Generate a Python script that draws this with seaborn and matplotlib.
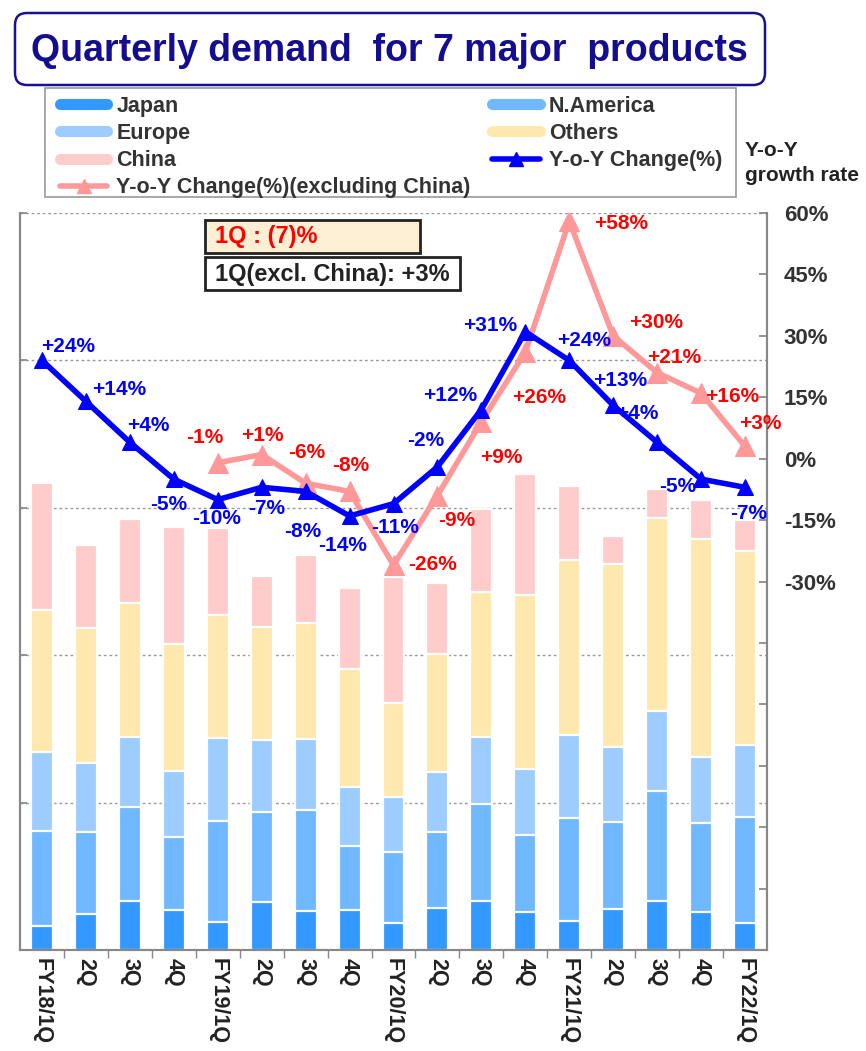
import numpy as np
import pandas as pd
import matplotlib
matplotlib.use("Agg")
import matplotlib.pyplot as plt
import seaborn as sns
from matplotlib.lines import Line2D
from matplotlib.patches import FancyBboxPatch, Rectangle
from matplotlib.transforms import IdentityTransform

# ---------------- data ----------------
quarter_labels = ["FY18/1Q", "2Q", "3Q", "4Q", "FY19/1Q", "2Q", "3Q", "4Q",
                  "FY20/1Q", "2Q", "3Q", "4Q", "FY21/1Q", "2Q", "3Q", "4Q", "FY22/1Q"]
japan     = [8.1, 12.2, 16.6, 13.6, 9.5, 16.3, 13.2, 13.6, 9.2, 14.2, 16.6, 12.9, 9.8, 13.9, 16.6, 12.9, 9.2]
n_america = [32.2, 27.8, 31.9, 24.8, 34.3, 30.5, 34.3, 21.7, 24.1, 25.8, 32.9, 26.1, 34.9, 29.5, 37.3, 30.2, 36.0]
europe    = [26.8, 23.4, 23.7, 22.4, 28.2, 24.4, 24.1, 20.0, 18.7, 20.4, 22.7, 22.4, 28.2, 25.4, 27.1, 22.4, 24.4]
others    = [48.2, 45.8, 45.5, 43.1, 41.7, 38.3, 39.3, 40.0, 31.9, 40.0, 49.2, 59.0, 59.4, 62.1, 65.5, 73.9, 65.8]
china     = [43.1, 28.2, 28.5, 39.7, 29.5, 17.3, 23.1, 27.5, 42.7, 24.1, 28.2, 41.0, 25.1, 9.5, 9.8, 13.2, 10.5]
yoy          = [24, 14, 4, -5, -10, -7, -8, -14, -11, -2, 12, 31, 24, 13, 4, -5, -7]
yoy_ex_china = [np.nan, np.nan, np.nan, np.nan, -1, 1, -6, -8, -26, -9, 9, 26, 58, 30, 21, 16, 3]

series_names = ["Japan", "N.America", "Europe", "Others", "China"]
line_names = ["Y-o-Y Change(%)", "Y-o-Y Change(%)(excluding China)"]
title_text = "Quarterly demand  for 7 major  products"
box1_text = "1Q : (7)%"
box2_text = "1Q(excl. China): +3%"

# ---------------- layout / style ----------------
bar_colors = ["#3399ff", "#70b8ff", "#9dcdff", "#ffe8ad", "#ffcccc"]
blue = "#0000ff"
pink = "#ff9999"
# label offsets in pixels (dx, dy) relative to the marker
yoy_offsets = [(26, 14), (33, 12), (18, 17), (-5, -25), (-1, -19), (5, -21), (-3, -40),
               (-7, -30), (2, -24), (-12, 26), (-31, 14), (-35, 6), (15, 20), (7, 25),
               (-20, 29), (-23, -7), (4, -26)]
ex_offsets = [None, None, None, None, (-13, 25), (1, 19), (1, 31), (1, 26), (39, 1),
              (19, -25), (20, -36), (14, -45), (52, -2), (43, 13), (17, 15), (31, -3), (15, 23)]

W, H = 866, 1051
sns.set_theme(style="white")
plt.rcParams["font.family"] = ["Liberation Sans", "DejaVu Sans"]
plt.rcParams["font.weight"] = "bold"

fig = plt.figure(figsize=(W / 100, H / 100), dpi=100)
ax = fig.add_axes([20 / W, 101 / H, 747 / W, 737 / H])

n = len(quarter_labels)
pos = np.arange(n)
layers = np.array([japan, n_america, europe, others, china])
cum = np.cumsum(layers, axis=0)

df = pd.DataFrame({"q": pos})
for i in range(len(series_names) - 1, -1, -1):
    df["v"] = cum[i]
    sns.barplot(data=df, x="q", y="v", color=bar_colors[i], saturation=1, width=0.5,
                edgecolor="white", linewidth=1.6, errorbar=None, ax=ax, zorder=2)

ax.set_xlim(-0.5, n - 0.5)
ax.set_ylim(0, 250)
ax.set_yticks(np.arange(0, 251, 50))
ax.set_yticklabels([])
ax.set_xlabel("")
ax.set_ylabel("")
ax.yaxis.grid(True, linestyle=(0, (2, 2)), color="#999999", lw=1)
ax.xaxis.grid(False)
ax.set_axisbelow(True)
ax.tick_params(axis="y", direction="in", length=5, color="#888888", left=True)
ax.set_xticks(pos)
ax.set_xticklabels(quarter_labels, rotation=270, fontsize=15.5, fontweight="bold", color="#222222")
ax.set_xticks(pos[:-1] + 0.5, minor=True)
ax.tick_params(axis="x", which="major", length=0, pad=6)
ax.tick_params(axis="x", which="minor", length=6, color="#888888", bottom=True, direction="out")
for s in ["left", "bottom", "right"]:
    ax.spines[s].set_color("#888888")
    ax.spines[s].set_linewidth(1.5)
ax.spines["top"].set_visible(False)

ax2 = ax.twinx()
sns.lineplot(x=pos, y=yoy_ex_china, ax=ax2, color=pink, lw=4, marker="^", markersize=15,
             markeredgecolor=pink, zorder=3)
sns.lineplot(x=pos, y=yoy, ax=ax2, color=blue, lw=4, marker="^", markersize=12,
             markeredgecolor=blue, zorder=4)
ax2.set_ylim(-120, 60)
ticks = np.arange(-120, 61, 15)
ax2.set_yticks(ticks)
ax2.set_yticklabels([f"{t}%" if t >= -30 else "" for t in ticks], fontsize=16,
                    fontweight="bold", color="#333333")
ax2.tick_params(axis="y", direction="in", length=6, color="#888888", pad=12, right=True)
ax2.set_xlim(-0.5, n - 0.5)
ax2.set_ylabel("")
ax2.grid(False)
for s in ["left", "bottom", "right"]:
    ax2.spines[s].set_color("#888888")
    ax2.spines[s].set_linewidth(1.5)
ax2.spines["top"].set_visible(False)

for i, v in enumerate(yoy):
    dx, dy = yoy_offsets[i]
    ax2.annotate(f"{v:+d}%", (pos[i], v), xytext=(dx, dy), textcoords="offset pixels",
                 ha="center", va="center", color=blue, fontsize=15, fontweight="bold", zorder=6)
for i, v in enumerate(yoy_ex_china):
    if np.isnan(v):
        continue
    dx, dy = ex_offsets[i]
    ax2.annotate(f"{int(v):+d}%", (pos[i], v), xytext=(dx, dy), textcoords="offset pixels",
                 ha="center", va="center", color="#ff0000", fontsize=15, fontweight="bold", zorder=6)

# title box
tb = FancyBboxPatch((15, H - 85), 750, 72, boxstyle="round,pad=0,rounding_size=12",
                    transform=IdentityTransform(), facecolor="white", edgecolor="#1a1090", lw=1.8)
fig.patches.append(tb)
fig.text(389 / W, 1 - 51 / H, title_text, ha="center", va="center", fontsize=27,
         fontweight="bold", color="#150d90")

# legend (frame drawn separately)
lf = Rectangle((45, H - 197), 691, 109, transform=IdentityTransform(),
               facecolor="white", edgecolor="#999999", lw=1.2)
fig.patches.append(lf)
handles = [Line2D([0], [0], color=bar_colors[0], lw=8),
           Line2D([0], [0], color=bar_colors[2], lw=8),
           Line2D([0], [0], color=bar_colors[4], lw=8),
           Line2D([0], [0], color=pink, lw=4, marker="^", markersize=10),
           Line2D([0], [0], color=bar_colors[1], lw=8),
           Line2D([0], [0], color=bar_colors[3], lw=8),
           Line2D([0], [0], color=blue, lw=4, marker="^", markersize=10)]
labels = [series_names[0], series_names[2], series_names[4], line_names[1],
          series_names[1], series_names[3], line_names[0]]
leg = fig.legend(handles, labels, ncol=2, loc="upper left",
                 bbox_to_anchor=(60 / W, 1 - 96 / H), borderaxespad=0, frameon=False,
                 prop={"weight": "bold", "size": 15.5},
                 labelcolor="#333333", handlelength=2.2, columnspacing=1.0,
                 labelspacing=0.28, borderpad=0, handletextpad=0.42)

fig.text(745 / W, 1 - 150 / H, "Y-o-Y", ha="left", va="center", fontsize=15,
         fontweight="bold", color="#222222")
fig.text(745 / W, 1 - 176 / H, "growth rate", ha="left", va="center", fontsize=15,
         fontweight="bold", color="#222222")

# annotation boxes
r1 = Rectangle((205, H - 253), 215, 33, transform=IdentityTransform(),
               facecolor="#fdefd3", edgecolor="#222222", lw=2, zorder=5)
r2 = Rectangle((205, H - 290), 255, 33, transform=IdentityTransform(),
               facecolor="white", edgecolor="#222222", lw=2, zorder=5)
fig.patches.extend([r1, r2])
fig.text(215 / W, 1 - 237 / H, box1_text, ha="left", va="center", fontsize=17,
         fontweight="bold", color="#ff0000", zorder=6)
fig.text(215 / W, 1 - 274 / H, box2_text, ha="left", va="center", fontsize=17,
         fontweight="bold", color="#222222", zorder=6)

fig.savefig("out.png", dpi=100)
